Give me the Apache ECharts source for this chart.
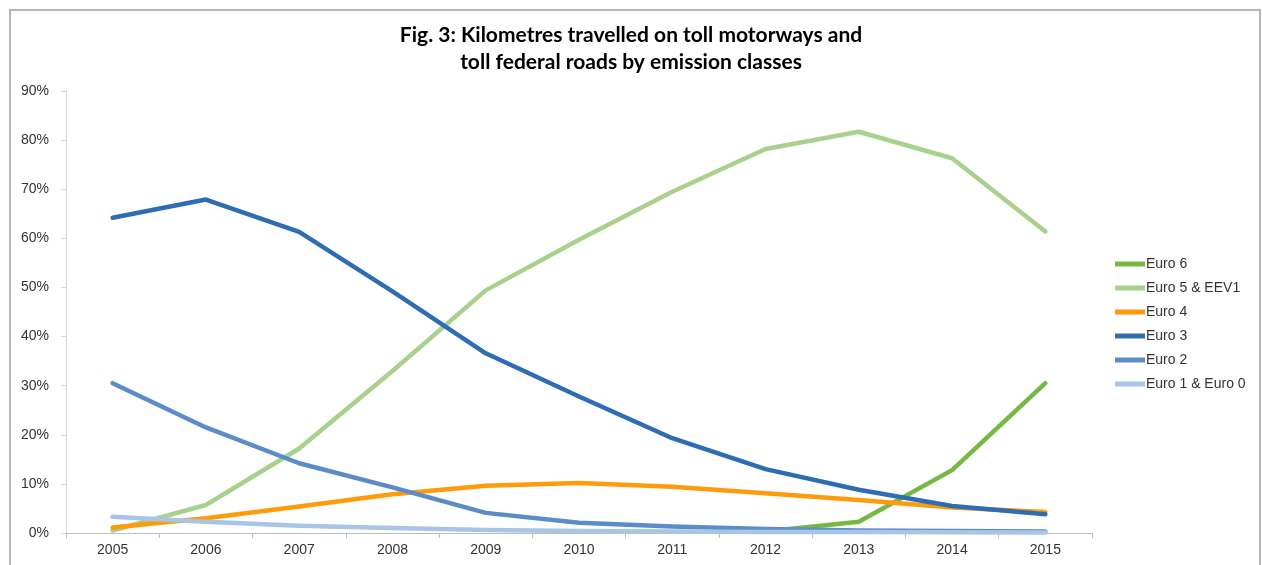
<!DOCTYPE html>
<html>
<head>
<meta charset="utf-8">
<script src="https://cdn.jsdelivr.net/npm/echarts@6/dist/echarts.min.js"></script>
<style>html,body{margin:0;padding:0;background:#fff;}#c{width:1262px;height:565px;}</style>
</head>
<body>
<div id="c"></div>
<script>
const years = ['2005','2006','2007','2008','2009','2010','2011','2012','2013','2014','2015'];
const euro6 = [null, null, null, null, null, null, null, 0.3, 2.3, 12.8, 30.5];
const euro5 = [0.5, 5.7, 17.2, 33.0, 49.4, 59.7, 69.5, 78.2, 81.7, 76.3, 61.4];
const euro4 = [1.1, 3.0, 5.4, 7.9, 9.6, 10.2, 9.4, 8.1, 6.7, 5.2, 4.3];
const euro3 = [64.2, 67.9, 61.3, 49.2, 36.6, 27.8, 19.3, 13.0, 8.8, 5.5, 3.8];
const euro2 = [30.5, 21.5, 14.2, 9.3, 4.1, 2.1, 1.3, 0.8, 0.5, 0.4, 0.3];
const euro1 = [3.3, 2.3, 1.5, 1.0, 0.6, 0.4, 0.3, 0.2, 0.2, 0.15, 0.1];
const seriesNames = ['Euro 6', 'Euro 5 & EEV1', 'Euro 4', 'Euro 3', 'Euro 2', 'Euro 1 & Euro 0'];
const seriesColors = ['#77b843', '#a9d18e', '#ff9a0a', '#2e6db4', '#5b8cc8', '#a8c5e5'];
const seriesData = [euro6, euro5, euro4, euro3, euro2, euro1];

const chart = echarts.init(document.getElementById('c'));
chart.setOption({
  animation: false,
  backgroundColor: '#ffffff',
  title: {
    text: 'Fig. 3: Kilometres travelled on toll motorways and\ntoll federal roads by emission classes',
    left: 'center',
    top: 17,
    textStyle: { fontFamily: 'Lato', fontWeight: 'bold', fontSize: 21, color: '#000', lineHeight: 27 }
  },
  graphic: [{
    type: 'rect',
    shape: { x: 10, y: 10, width: 1250, height: 570 },
    style: { fill: 'none', stroke: '#b5b5b5', lineWidth: 2 },
    silent: true
  }],
  legend: {
    orient: 'vertical',
    left: 1110,
    top: 252,
    itemWidth: 30,
    itemHeight: 5,
    itemGap: 10,
    icon: 'rect',
    data: seriesNames,
    textStyle: { fontFamily: 'Liberation Sans', fontSize: 14, color: '#333', padding: [0,0,0,-4] }
  },
  grid: { left: 66, right: 170, top: 91, bottom: 32, containLabel: false },
  xAxis: {
    type: 'category',
    data: years,
    boundaryGap: true,
    axisLine: { lineStyle: { color: '#bdbdbd', width: 1 } },
    axisTick: { show: true, length: 5, lineStyle: { color: '#bdbdbd' } },
    axisLabel: { margin: 10, fontFamily: 'Liberation Sans', fontSize: 14, color: '#333' },
    splitLine: { show: false }
  },
  yAxis: {
    type: 'value',
    min: 0, max: 90, interval: 10,
    axisLine: { show: true, lineStyle: { color: '#d9d9d9', width: 1 } },
    axisTick: { show: true, length: 5, lineStyle: { color: '#d9d9d9' } },
    axisLabel: { formatter: '{value}%', margin: 17, fontFamily: 'Liberation Sans', fontSize: 14, color: '#333' },
    splitLine: { show: false }
  },
  series: seriesNames.map((n, i) => ({
    name: n,
    type: 'line',
    data: seriesData[i],
    symbol: 'none',
    showSymbol: false,
    connectNulls: false,
    color: seriesColors[i],
    lineStyle: { width: 4.5, color: seriesColors[i], cap: 'round', join: 'round' }
  }))
});
</script>
</body>
</html>
